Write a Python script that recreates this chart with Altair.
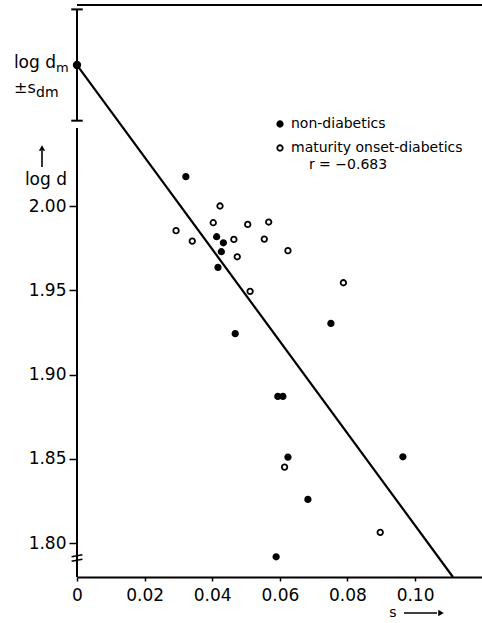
import altair as alt
import pandas as pd

# ---- data ----
non_s = [0.0322, 0.0413, 0.0433, 0.0427, 0.0417, 0.0468, 0.0751, 0.0594, 0.0609, 0.0624, 0.0964, 0.0683, 0.0589]
non_d = [2.0174, 1.9818, 1.9782, 1.9729, 1.9636, 1.9243, 1.9304, 1.8871, 1.8871, 1.8511, 1.8513, 1.8260, 1.7920]
mat_s = [0.0293, 0.0341, 0.0403, 0.0423, 0.0464, 0.0474, 0.0505, 0.0567, 0.0554, 0.0624, 0.0512, 0.0788, 0.0614, 0.0897]
mat_d = [1.9854, 1.9792, 1.9901, 2.0000, 1.9802, 1.9699, 1.9891, 1.9905, 1.9804, 1.9735, 1.9494, 1.9545, 1.8452, 1.8065]
groups = ["non-diabetics", "maturity onset-diabetics"]

line_s = [0.0, 0.1112]
line_d = [2.0836, 1.7800]

log_dm = 2.0836
s_dm = 0.0330

x_ticks = [0, 0.02, 0.04, 0.06, 0.08, 0.10]
y_ticks = [1.80, 1.85, 1.90, 1.95, 2.00]

X_DOMAIN = [0, 0.1198]
Y_DOMAIN = [1.78, 2.1192]
AXIS_TOP = 2.0463
FONT = "DejaVu Sans"

# ---- tables ----
pts = pd.DataFrame({
    "s": non_s + mat_s,
    "logd": non_d + mat_d,
    "group": [groups[0]] * len(non_s) + [groups[1]] * len(mat_s),
})
reg = pd.DataFrame({"s": line_s, "logd": line_d})

xs = alt.Scale(domain=X_DOMAIN, nice=False, zero=False)
ys = alt.Scale(domain=Y_DOMAIN, nice=False, zero=False)

xenc = alt.X("s:Q", scale=xs, title=None,
             axis=alt.Axis(values=x_ticks,
                           labelExpr="datum.value == 0 ? '0' : format(datum.value, '.2f')",
                           grid=False, domainWidth=2, domainColor="black",
                           tickColor="black", tickWidth=1.5, tickSize=4,
                           labelPadding=6, labelFontSize=17, labelFont=FONT,
                           labelColor="black", labelFlush=False))
yenc = alt.Y("logd:Q", scale=ys, title=None,
             axis=alt.Axis(values=y_ticks, format=".2f", grid=False, domain=False,
                           tickColor="black", tickWidth=1.5, tickSize=8,
                           labelPadding=3, labelFontSize=17, labelFont=FONT,
                           labelColor="black"))

base_y = alt.Y("y1:Q", scale=ys)

# regression line
line = alt.Chart(reg).mark_line(color="black", strokeWidth=2.2).encode(x=xenc, y=yenc)

# left axis (lower, unbroken part)
yaxis_line = alt.Chart(pd.DataFrame({"s": [0.0], "y1": [Y_DOMAIN[0]], "y2": [AXIS_TOP]})).mark_rule(
    color="black", strokeWidth=2).encode(x=alt.X("s:Q", scale=xs), y=base_y, y2="y2:Q")

# axis break marks
brk = pd.DataFrame({"s1": [-0.0016, -0.0016], "s2": [0.0016, 0.0016],
                    "y1": [1.7893, 1.7920], "y2": [1.7905, 1.7932]})
breaks = alt.Chart(brk).mark_rule(color="black", strokeWidth=1.6).encode(
    x=alt.X("s1:Q", scale=xs), x2="s2:Q", y=base_y, y2="y2:Q")

# top frame line
top = alt.Chart(pd.DataFrame({"s1": [X_DOMAIN[0]], "s2": [X_DOMAIN[1]], "y1": [Y_DOMAIN[1]]})).mark_rule(
    color="black", strokeWidth=2).encode(x=alt.X("s1:Q", scale=xs), x2="s2:Q", y=base_y)

# mean +- sd error bar at s = 0
eb = pd.DataFrame({"s": [0.0], "y1": [log_dm - s_dm], "y2": [log_dm + s_dm]})
ebar = alt.Chart(eb).mark_rule(color="black", strokeWidth=2).encode(
    x=alt.X("s:Q", scale=xs), y=base_y, y2="y2:Q")
caps_df = pd.DataFrame({"s1": [-0.0017, -0.0017], "s2": [0.0017, 0.0017],
                        "y1": [log_dm - s_dm, log_dm + s_dm]})
caps = alt.Chart(caps_df).mark_rule(color="black", strokeWidth=2).encode(
    x=alt.X("s1:Q", scale=xs), x2="s2:Q", y=base_y)
mean_pt = alt.Chart(pd.DataFrame({"s": [0.0], "y1": [log_dm]})).mark_point(
    shape="circle", filled=True, color="black", size=70, opacity=1).encode(
    x=alt.X("s:Q", scale=xs), y=base_y)

# scatter points
points = alt.Chart(pts).mark_point(shape="circle", filled=True, stroke="black",
                                   strokeWidth=1.8, size=30, opacity=1).encode(
    x=alt.X("s:Q", scale=xs),
    y=alt.Y("logd:Q", scale=ys),
    fill=alt.Fill("group:N",
                  scale=alt.Scale(domain=groups, range=["black", "white"]),
                  legend=alt.Legend(orient="none", legendX=196, legendY=112, title=None,
                                    labelFontSize=14, labelFont=FONT, labelColor="black",
                                    labelLimit=0,
                                    symbolSize=30, symbolStrokeColor="black",
                                    symbolStrokeWidth=1.8, symbolType="circle",
                                    rowPadding=10, labelOffset=4, padding=0)),
)


def txt(t, x, y, size=16, align="left", baseline="alphabetic"):
    return alt.Chart(alt.Data(values=[{}])).mark_text(
        text=t, font=FONT, fontSize=size, align=align, baseline=baseline, color="black"
    ).encode(x=alt.value(x), y=alt.value(y))


def seg(x1, y1, x2, y2, w=1.6):
    return alt.Chart(alt.Data(values=[{}])).mark_rule(color="black", strokeWidth=w).encode(
        x=alt.value(x1), y=alt.value(y1), x2=alt.value(x2), y2=alt.value(y2))


def head(x, y, shape):
    return alt.Chart(alt.Data(values=[{}])).mark_point(
        shape=shape, filled=True, color="black", size=40, opacity=1).encode(
        x=alt.value(x), y=alt.value(y))


annot = [
    txt("log d", -21, 63, 17, align="right"),
    txt("m", -21, 67, 13),
    txt("\u00b1s", -63, 88, 16),
    txt("dm", -41, 92, 14),
    txt("log d", -10, 180, 17, align="right"),
    seg(-35, 146, -35, 162),
    head(-35, 143, "triangle-up"),
    txt("r = \u22120.683", 271, 160, 14, align="center", baseline="middle"),
    txt("s", 316, 608, 14, align="center", baseline="middle"),
    seg(327, 608, 360, 608),
    head(364, 608, "triangle-right"),
]

chart = alt.layer(
    yaxis_line, top, breaks, ebar, caps, line, mean_pt, points, *annot
).properties(
    width=405, height=572,
    padding={"left": 77, "top": 5, "right": 0, "bottom": 46},
    autosize=alt.AutoSizeParams(type="none"),
    background="white",
).configure_view(stroke=None)

chart.save("out.html", embed_options={"renderer": "svg", "actions": False})
